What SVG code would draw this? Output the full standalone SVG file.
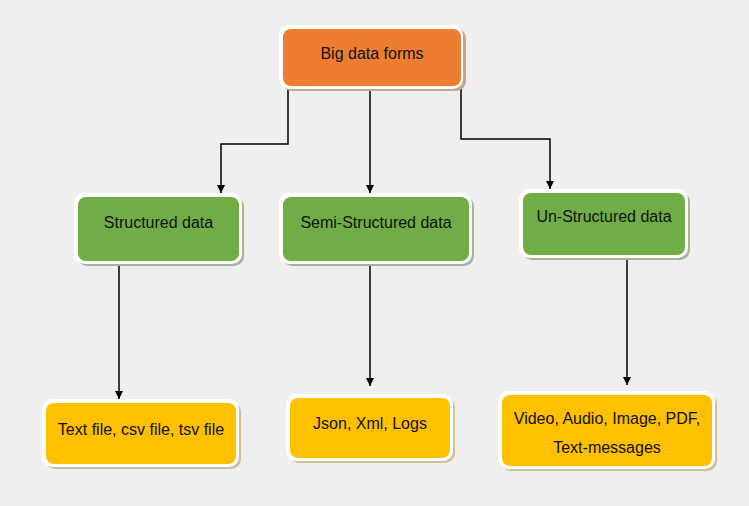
<svg xmlns="http://www.w3.org/2000/svg" width="749" height="506" viewBox="0 0 749 506">
<defs>
<style>
.t{font-family:"Liberation Sans",Arial,sans-serif;font-size:16px;fill:#111;text-anchor:middle;dominant-baseline:central}
.w{fill:#ffffff}
.c{fill:none;stroke:#000;stroke-width:1.5;marker-end:url(#ah)}
.o{fill:#ed7d31}.os{fill:#c9a48c}
.g{fill:#70ad47}.gs{fill:#a5b597}
.y{fill:#ffc000}.ys{fill:#cfbf94}
</style>
<marker id="ah" viewBox="0 0 10 10" refX="10" refY="5" markerWidth="8" markerHeight="8" markerUnits="userSpaceOnUse" orient="auto">
<path d="M0,0 L10,5 L0,10 z" fill="#000"/>
</marker>
</defs>
<rect width="749" height="506" fill="#efefef"/>
<g id="connectors">
<path class="c" d="M288 89 V144 H221 V193"/>
<path class="c" d="M370 89 V193"/>
<path class="c" d="M461 89 V139 H550 V189"/>
<path class="c" d="M119 265 V399"/>
<path class="c" d="M370 265 V386"/>
<path class="c" d="M627 259 V385"/>
</g>
<g id="big-data-forms">
<rect class="os" x="282" y="28" width="184" height="63" rx="10"/>
<rect class="w" x="279" y="25" width="184" height="64" rx="10"/>
<rect class="o" x="283" y="29" width="178" height="57" rx="8"/>
<text class="t" x="372" y="53">Big data forms</text>
</g>
<g id="structured">
<rect class="gs" x="77" y="196" width="167" height="70" rx="10"/>
<rect class="w" x="74" y="193" width="168" height="71" rx="10"/>
<rect class="g" x="78" y="197" width="161" height="64" rx="8"/>
<text class="t" x="158.5" y="222">Structured data</text>
</g>
<g id="semi-structured">
<rect class="gs" x="282" y="196" width="192" height="70" rx="10"/>
<rect class="w" x="279" y="193" width="193" height="71" rx="10"/>
<rect class="g" x="283" y="197" width="186" height="64" rx="8"/>
<text class="t" x="376" y="222">Semi-Structured data</text>
</g>
<g id="un-structured">
<rect class="gs" x="522" y="192" width="168" height="68" rx="10"/>
<rect class="w" x="519" y="189" width="169" height="69" rx="10"/>
<rect class="g" x="523" y="193" width="162" height="62" rx="8"/>
<text class="t" x="604" y="216">Un-Structured data</text>
</g>
<g id="text-files">
<rect class="ys" x="45" y="402" width="196" height="67" rx="10"/>
<rect class="w" x="42" y="399" width="197" height="68" rx="10"/>
<rect class="y" x="46" y="403" width="190" height="61" rx="8"/>
<text class="t" x="141" y="429">Text file, csv file, tsv file</text>
</g>
<g id="json-xml-logs">
<rect class="ys" x="289" y="397" width="166" height="66" rx="10"/>
<rect class="w" x="286" y="394" width="167" height="67" rx="10"/>
<rect class="y" x="290" y="398" width="160" height="60" rx="8"/>
<text class="t" x="370" y="423">Json, Xml, Logs</text>
</g>
<g id="video-audio">
<rect class="ys" x="501" y="394" width="216" height="77" rx="10"/>
<rect class="w" x="498" y="391" width="217" height="78" rx="10"/>
<rect class="y" x="502" y="395" width="210" height="71" rx="8"/>
<text class="t" x="607" y="418">Video, Audio, Image, PDF,</text>
<text class="t" x="607" y="447">Text-messages</text>
</g>
</svg>
